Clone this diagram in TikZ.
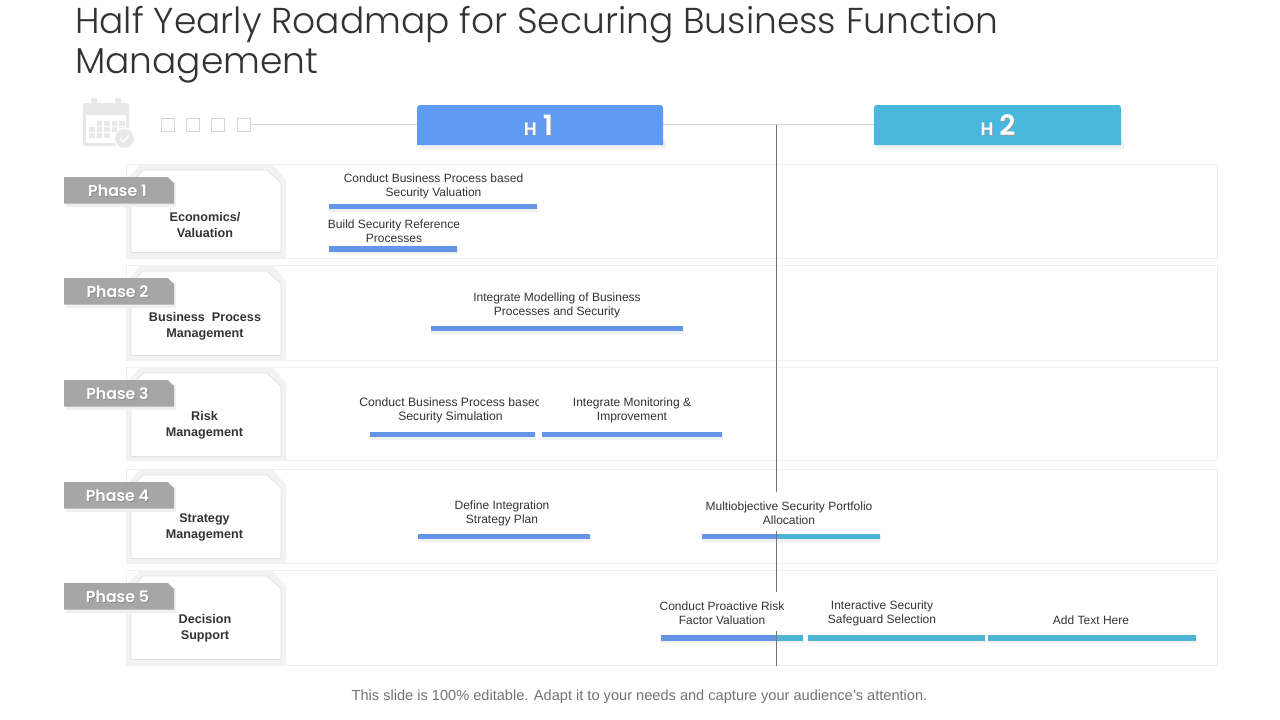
\documentclass[tikz,border=0pt]{standalone}
\usepackage{fontspec}
\setmainfont{Liberation Sans}
\newfontfamily\titlefont{Poppins Light}
\newfontfamily\headfont{Poppins}[BoldFont={Poppins SemiBold}]
\definecolor{hblue}{HTML}{5F9BF3}
\definecolor{hteal}{HTML}{48B8DF}
\definecolor{barblue}{HTML}{6495E8}
\definecolor{barteal}{HTML}{4DB4D4}
\definecolor{rowline}{HTML}{F0F0F0}
\definecolor{cardout}{HTML}{F2F2F2}
\definecolor{cardin}{HTML}{E0E0E0}
\definecolor{tagfill}{HTML}{A6A6A6}
\definecolor{iconfill}{HTML}{E8E8E8}
\definecolor{gridline}{HTML}{D4D4D4}
\definecolor{txt}{HTML}{333333}
\tikzset{
  rowbox/.style={draw=rowline,line width=0.8pt,fill=white},
  tasktext/.style={text=txt,align=center,inner sep=0pt,font=\fontsize{12}{14}\selectfont},
  cardtext/.style={text=txt,align=center,inner sep=0pt,font=\fontsize{12.6}{16}\selectfont\bfseries},
  taglabel/.style={text=white,inner sep=0pt,font=\headfont\fontsize{15.8}{18}\selectfont\bfseries},
  barshadow/.style={fill=black!6,draw=none},
  gridsq/.style={draw=gridline,line width=0.8pt,fill=white,minimum size=13pt,inner sep=0pt},
  hhead/.style={inner sep=0pt,text=white,font=\headfont\bfseries},
  axis/.style={draw=gridline,line width=0.8pt},
  nowline/.style={draw=black!55,line width=0.9pt}
}
\newcommand{\rowcard}[6]{%
  % #1 row top, #2 row bottom, #3 card top, #4 card bottom, #5 tag top, #6 phase
  \draw[rowbox] (126,#1) rectangle (1217.5,#2-0.5);
  \fill[cardout] (141,#3-6) -- (272,#3-6) -- (286,#3+10) -- (286,#2-0.5) -- (126,#2-0.5) -- (126,#3+10) -- cycle;
  \draw[draw=cardin,fill=white,line width=0.7pt] (143,#3) -- (267,#3) -- (281,#3+13) -- (281,#4-0.5) -- (131,#4-0.5) -- (131,#3+13) -- cycle;
  \fill[black!6] (66,#5+5) rectangle (176,#5+29.5);
  \fill[tagfill] (64,#5) -- (168,#5) -- (174,#5+6) -- (174,#5+26.5) -- (64,#5+26.5) -- cycle;
  \node[taglabel,text=black!45] at (118.3,#5+14.3) {#6};
  \node[taglabel] at (117.5,#5+13.5) {#6};
}
\newcommand{\taskbar}[4]{%
  \fill[barshadow] (#1,#3+1.5) rectangle (#2+1,#3+8);
  \fill[#4] (#1,#3) rectangle (#2,#3+5.5);
}
\begin{document}
\begin{tikzpicture}[x=1pt,y=-1pt]
\useasboundingbox (0,0) rectangle (1280,720);
\fill[white] (0,0) rectangle (1280,720);
% title
\node[anchor=north west,inner sep=0pt,align=left,text=txt,font=\titlefont\fontsize{36}{40}\selectfont] (title) at (75,6.5) {Half Yearly Roadmap for Securing Business Function\\Management};
% rows
\rowcard{164}{259}{170}{253}{177}{Phase 1}
\rowcard{265}{361}{271}{356}{278}{Phase 2}
\rowcard{367}{461}{373}{457}{380}{Phase 3}
\rowcard{469}{564}{475}{559}{482}{Phase 4}
\rowcard{570}{666}{576}{660}{583}{Phase 5}
% calendar icon
\fill[iconfill,rounded corners=2pt] (83,103) rectangle (129,146);
\fill[white] (86,115) rectangle (126,143);
\fill[iconfill] (91,98) rectangle (97,108);
\fill[iconfill] (115,98) rectangle (121,108);
\foreach \r/\c in {0/1,0/2,0/3,0/4,1/0,1/1,1/2,1/3,1/4,2/0,2/1,2/2}
  \fill[iconfill] (89+\c*7.5,121+\r*6.2) rectangle (94.5+\c*7.5,125.5+\r*6.2);
\fill[white] (124.5,138.5) circle (11);
\fill[iconfill] (124.5,138.5) circle (9.5);
\draw[white,line width=1.5pt] (120,138.5) -- (123.5,142) -- (129,135.5);
% header
\node[gridsq] (s1) at (167.5,124.5) {};
\node[gridsq] (s2) at (192.5,124.5) {};
\node[gridsq] (s3) at (217.5,124.5) {};
\node[gridsq] (s4) at (243.5,124.5) {};
\coordinate (h1w) at (417,124.5);
\coordinate (h1e) at (663,124.5);
\coordinate (h2w) at (874,124.5);
\draw[axis] (s4.east) -- (h1w);
\draw[axis] (h1e) -- (h2w);
\fill[black!6] (420,140) rectangle (666,149);
\fill[black!6] (877,140) rectangle (1124,149);
\fill[hblue] (417,145) -- (417,111) .. controls (417,105) .. (423,105) -- (657,105) .. controls (663,105) .. (663,111) -- (663,145) -- cycle;
\fill[hteal] (874,145) -- (874,111) .. controls (874,105) .. (880,105) -- (1115,105) .. controls (1121,105) .. (1121,111) -- (1121,145) -- cycle;
\node[hhead,text=black!40] at (539.3,125.8) {\fontsize{18}{20}\selectfont H\,\,\fontsize{28}{28}\selectfont 1};
\node[hhead] (h1) at (538.5,125) {\fontsize{18}{20}\selectfont H\,\,\fontsize{28}{28}\selectfont 1};
\node[hhead,text=black!40] at (998.8,125.8) {\fontsize{18}{20}\selectfont H\,\,\fontsize{28}{28}\selectfont 2};
\node[hhead] (h2) at (998,125) {\fontsize{18}{20}\selectfont H\,\,\fontsize{28}{28}\selectfont 2};
% today line
\coordinate (v0) at (776.5,125);
\coordinate (v1) at (776.5,492);
\coordinate (v2) at (776.5,531);
\coordinate (v3) at (776.5,592);
\coordinate (v4) at (776.5,631);
\coordinate (v5) at (776.5,666);
% card labels
\node[cardtext] (c1) at (205,225) {Economics/\\Valuation};
\node[cardtext] (c2) at (205,326) {Business\ \ Process\\Management};
\node[cardtext] (c3) at (204.5,425) {Risk\\Management};
\node[cardtext] (c4) at (204.5,527) {Strategy\\Management};
\node[cardtext] (c5) at (205,628) {Decision\\Support};
% bars
\taskbar{329}{537}{203.5}{barblue}
\taskbar{329}{457}{246}{barblue}
\taskbar{431}{683}{325.5}{barblue}
\taskbar{370}{535}{431.5}{barblue}
\taskbar{542}{722}{431.5}{barblue}
\taskbar{418}{590}{533.5}{barblue}
\taskbar{702}{880}{533.5}{barteal}
\fill[barblue] (702,533.5) rectangle (777,539);
\taskbar{661}{803}{635}{barteal}
\fill[barblue] (661,635) rectangle (777,640.5);
\taskbar{808}{985}{635}{barteal}
\taskbar{988}{1196}{635}{barteal}
\draw[nowline] (v0) -- (v1);
\draw[nowline] (v2) -- (v3);
\draw[nowline] (v4) -- (v5);
% task labels
\node[tasktext] (t1) at (433.5,186) {Conduct Business Process based\\Security Valuation};
\node[tasktext] (t2) at (394,231) {Build Security Reference\\Processes};
\node[tasktext] (t3) at (557,305) {Integrate Modelling of Business\\Processes and Security};
\node[tasktext,font=\fontsize{12.2}{14}\selectfont] (t4) at (450.5,410) {Conduct Business Process based\\Security Simulation};
\fill[white] (539.2,395) rectangle (722,424);
\node[tasktext] (t5) at (632,410) {Integrate Monitoring \&\\Improvement};
\node[tasktext] (t6) at (502,513) {Define Integration\\Strategy Plan};
\node[tasktext] (t7) at (789,513) {Multiobjective Security Portfolio\\Allocation};
\node[tasktext] (t8) at (722,613) {Conduct Proactive Risk\\Factor Valuation};
\node[tasktext] (t9) at (882,613) {Interactive Security\\Safeguard Selection};
\node[tasktext] (t10) at (1091,620) {Add Text Here};
% footer
\node[inner sep=0pt,text=black!55,font=\fontsize{14.6}{16}\selectfont] (foot) at (639.5,696.5) {This slide is 100\% editable. Adapt it to your needs and capture your audience's attention.};
\end{tikzpicture}
\end{document}
